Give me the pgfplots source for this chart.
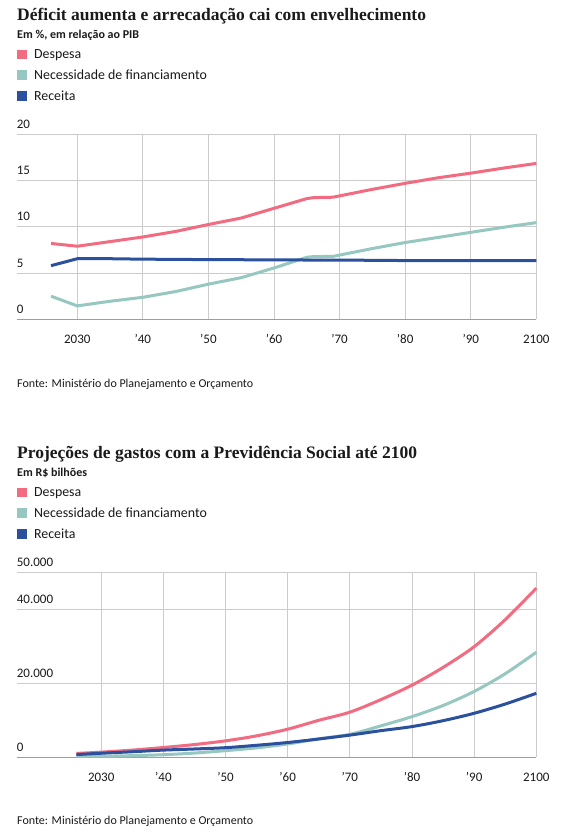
\documentclass[border=0pt]{standalone}
\usepackage{pgfplots}
\pgfplotsset{compat=1.18}
\usepackage{pgfplotstable}
\usepackage{fontspec}
\setmainfont{Carlito}
\newfontfamily\titlefont{Liberation Serif}

\definecolor{despesa}{HTML}{F26B80}
\definecolor{necess}{HTML}{96C7C0}
\definecolor{receita}{HTML}{2B509E}
\definecolor{gridc}{HTML}{CCCCCC}
\definecolor{axisc}{HTML}{9E9E9E}
\definecolor{txt}{HTML}{1A1A1A}

% Share of GDP (%)
\pgfplotstableread{
ano   despesa necess receita
2026  8.20    2.50   5.80
2030  7.90    1.45   6.55
2035  8.40    1.95   6.55
2040  8.90    2.38   6.50
2045  9.50    3.00   6.48
2050  10.25   3.80   6.45
2055  10.95   4.50   6.44
2060  12.00   5.55   6.42
2065  13.05   6.70   6.41
2066  13.15   6.78   6.41
2069  13.20   6.80   6.40
2075  14.05   7.65   6.38
2080  14.70   8.30   6.35
2085  15.30   8.85   6.35
2090  15.80   9.40   6.35
2095  16.35   9.95   6.35
2100  16.85   10.45  6.35
}\tabpib

% R$ billions
\pgfplotstableread{
ano   despesa necess receita
2026  1050    310    740
2030  1400    300    1100
2035  1950    450    1500
2040  2650    700    1950
2045  3450    1150   2250
2050  4450    1800   2600
2055  5800    2550   3250
2060  7600    3600   4000
2065  10000   5000   4950
2070  12200   6200   6000
2075  15600   8500   7200
2080  19500   11000  8300
2085  24300   14000  9900
2090  29900   17800  11900
2095  37200   22600  14400
2100  45700   28400  17300
}\tabbrl

\pgfplotsset{
  painel/.style={
    scale only axis, width=519.6pt, height=185pt,
    xmax=2100, ymin=0,
    xtick={2030,2040,...,2100},
    xticklabels={2030,’40,’50,’60,’70,’80,’90,2100},
    grid=major, major grid style={draw=gridc, line width=1pt},
    axis line style={draw=none}, major tick length=0pt,
    scaled y ticks=false,
    tick label style={font=\fontsize{13}{15}\selectfont, text=txt, inner sep=0pt},
    xticklabel style={anchor=base, yshift=-24pt},
    yticklabel style={anchor=base west, yshift=6pt},
    /pgf/number format/assume math mode=true,
    clip=false,
    legend cell align=left,
    legend image code/.code={\fill[##1, draw=none] (0pt,-0.55pt) rectangle (9.5pt,8.95pt);
      \path (15.3pt,0pt);},
    legend style={at={(0,1)}, anchor=north west, xshift=0.6pt, yshift=84.8pt,
      draw=none, fill=none, inner sep=0pt, outer sep=0pt, row sep=8.85pt,
      nodes={inner sep=0pt, text height=9pt, text depth=3pt, anchor=base west,
        font=\fontsize{13.9}{16}\selectfont, text=txt}},
  },
  linha/.style={line width=3pt, line join=round},
}

\begin{document}
\begin{tikzpicture}
\fill[white] (0,0) rectangle (583pt,-840pt);
\path[use as bounding box] (0,0) rectangle (583pt,-840pt);

% ---------- upper panel ----------
\node[anchor=base west, inner sep=0pt, text=txt] at (17pt,-20.7pt)
  {\titlefont\bfseries\fontsize{17.5}{20}\selectfont Déficit aumenta e arrecadação cai com envelhecimento};
\node[anchor=base west, inner sep=0pt, text=txt] at (17pt,-38.5pt)
  {\bfseries\fontsize{12}{14}\selectfont Em \%, em relação ao PIB};

\begin{axis}[painel, at={(16.7pt,-319.3pt)}, anchor=south west,
  xmin=2020.76, ymax=20, ytick={0,5,10,15,20}]
  \draw[axisc, line width=1pt] (rel axis cs:0,0) -- (rel axis cs:1,0);
  \addplot[linha, color=despesa] table[x=ano, y=despesa] {\tabpib};
  \addlegendentry{Despesa}
  \addplot[linha, color=necess] table[x=ano, y=necess] {\tabpib};
  \addlegendentry{Necessidade de financiamento}
  \addplot[linha, color=receita] table[x=ano, y=receita] {\tabpib};
  \addlegendentry{Receita}
\end{axis}

\node[anchor=base west, inner sep=0pt, text=txt] at (17pt,-387pt)
  {\fontsize{12}{14}\selectfont Fonte: Ministério do Planejamento e Orçamento};

% ---------- lower panel ----------
\node[anchor=base west, inner sep=0pt, text=txt] at (17pt,-458.5pt)
  {\titlefont\bfseries\fontsize{17.5}{20}\selectfont Projeções de gastos com a Previdência Social até 2100};
\node[anchor=base west, inner sep=0pt, text=txt] at (17pt,-476.8pt)
  {\bfseries\fontsize{12}{14}\selectfont Em R\$ bilhões};

\begin{axis}[painel, at={(16.7pt,-757.3pt)}, anchor=south west,
  xmin=2016.4, ymax=50000, ytick={0,20000,40000,50000},
  yticklabels={0,20.000,40.000,50.000}]
  \draw[axisc, line width=1pt] (rel axis cs:0,0) -- (rel axis cs:1,0);
  \addplot[linha, smooth, color=despesa] table[x=ano, y=despesa] {\tabbrl};
  \addlegendentry{Despesa}
  \addplot[linha, smooth, color=necess] table[x=ano, y=necess] {\tabbrl};
  \addlegendentry{Necessidade de financiamento}
  \addplot[linha, smooth, color=receita] table[x=ano, y=receita] {\tabbrl};
  \addlegendentry{Receita}
\end{axis}

\node[anchor=base west, inner sep=0pt, text=txt] at (17pt,-824.5pt)
  {\fontsize{12}{14}\selectfont Fonte: Ministério do Planejamento e Orçamento};
\end{tikzpicture}
\end{document}
